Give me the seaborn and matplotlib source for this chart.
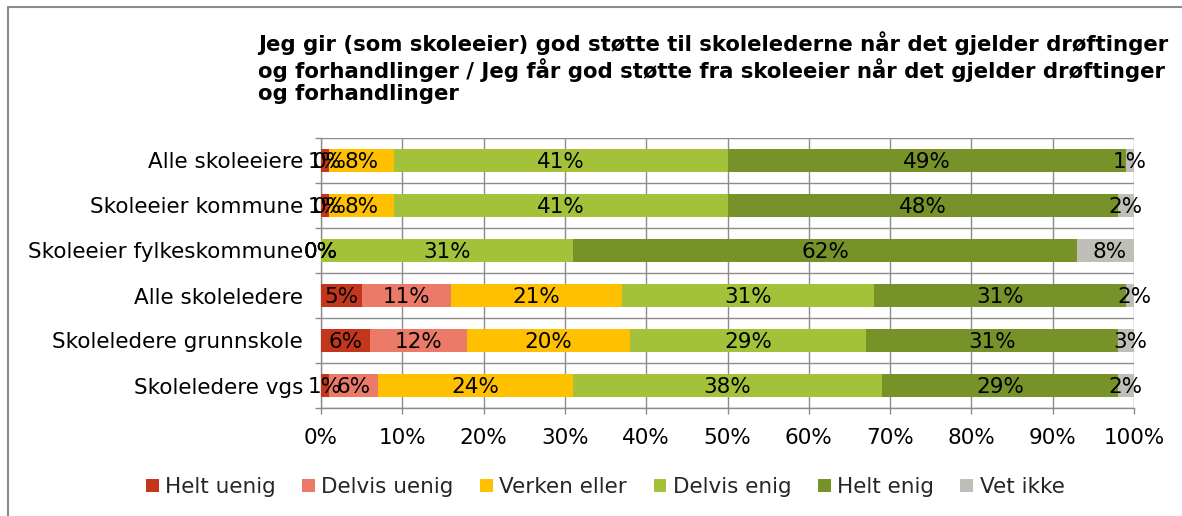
import numpy as np
import pandas as pd
import matplotlib
matplotlib.use("Agg")
import matplotlib.pyplot as plt
from matplotlib.lines import Line2D
from matplotlib.patches import Patch
from matplotlib.ticker import MultipleLocator, FixedLocator, PercentFormatter
import seaborn as sns

categories = ["Alle skoleeiere", "Skoleeier kommune", "Skoleeier fylkeskommune",
              "Alle skoleledere", "Skoleledere grunnskole", "Skoleledere vgs"]
series_names = ["Helt uenig", "Delvis uenig", "Verken eller", "Delvis enig", "Helt enig", "Vet ikke"]
helt_uenig   = [1, 1, 0, 5, 6, 1]
delvis_uenig = [0, 0, 0, 11, 12, 6]
verken_eller = [8, 8, 0, 21, 20, 24]
delvis_enig  = [41, 41, 31, 31, 29, 38]
helt_enig    = [49, 48, 62, 31, 31, 29]
vet_ikke     = [1, 2, 8, 2, 3, 2]
colors = ["#C3361C", "#EB7B68", "#FFC000", "#A3C23A", "#779229", "#BFBFB7"]

title = ("Jeg gir (som skoleeier) god støtte til skolelederne når det gjelder drøftinger\n"
         "og forhandlinger / Jeg får god støtte fra skoleeier når det gjelder drøftinger\n"
         "og forhandlinger")

values = [helt_uenig, delvis_uenig, verken_eller, delvis_enig, helt_enig, vet_ikke]
df = pd.DataFrame({name: v for name, v in zip(series_names, values)}, index=categories)
cum = df.cumsum(axis=1)

sns.set_theme(style="white")
plt.rcParams["font.family"] = ["DejaVu Sans"]

fig = plt.figure(figsize=(11.82, 5.16), dpi=100)
ax = fig.add_axes([321/1182, 1 - 408/516, (1134 - 321)/1182, (408 - 138)/516])

# stacked bars via cumulative totals drawn from the last series to the first
for name, col in zip(reversed(series_names), reversed(colors)):
    d = pd.DataFrame({"cat": categories, "val": cum[name].values})
    sns.barplot(data=d, y="cat", x="val", order=categories, color=col,
                width=0.5, ax=ax, saturation=1, linewidth=0, zorder=3)

# segment labels
for name in series_names:
    starts = cum[name].values - df[name].values
    for i, (s, v) in enumerate(zip(starts, df[name].values)):
        ax.text(s + v / 2, i + 0.03, f"{v:.0f}%", ha="center", va="center",
                fontsize=15.5, color="black", zorder=5)

ax.set_xlim(0, 100)
ax.set_ylim(len(categories) - 0.5, -0.5)
ax.xaxis.set_major_locator(MultipleLocator(10))
ax.xaxis.set_major_formatter(PercentFormatter(100, decimals=0))
ax.yaxis.set_minor_locator(FixedLocator(np.arange(-0.5, len(categories), 1.0)))
ax.set_xlabel("")
ax.set_ylabel("")

gc = "#8C8C8C"
ax.grid(True, axis="x", which="major", color=gc, linewidth=1.0, zorder=0)
ax.grid(True, axis="y", which="minor", color=gc, linewidth=1.0, zorder=0)
ax.grid(False, axis="y", which="major")
ax.set_axisbelow(True)
for side in ["top", "right"]:
    ax.spines[side].set_visible(False)
for side in ["left", "bottom"]:
    ax.spines[side].set_color(gc)
    ax.spines[side].set_linewidth(1.0)
ax.tick_params(axis="x", which="major", bottom=True, length=4.5, width=1.0, color=gc,
               labelsize=15.5, labelcolor="black", pad=10)
ax.tick_params(axis="y", which="major", left=False, length=0, labelsize=15.5,
               labelcolor="black", pad=13)
ax.tick_params(axis="y", which="minor", left=True, length=4.3, width=1.0, color=gc)

fig.text(258/1182, 1 - 31/516, title, ha="left", va="top", fontsize=15.3,
         fontweight="bold", linespacing=1.15, color="black")

handles = [Patch(facecolor=c, edgecolor="none") for c in colors]
fig.legend(handles, series_names, loc="center", bbox_to_anchor=(0.512, 1 - 487/516),
           ncol=6, frameon=False, fontsize=15.5, handlelength=0.6, handleheight=0.6,
           handletextpad=0.3, columnspacing=1.22)

fig.add_artist(Line2D([8/1182, 1], [1 - 7/516, 1 - 7/516], transform=fig.transFigure,
                      color="#8A8A8A", linewidth=1.5))
fig.add_artist(Line2D([8/1182, 8/1182], [0, 1 - 7/516], transform=fig.transFigure,
                      color="#8A8A8A", linewidth=1.5))

fig.savefig("out.png", dpi=100)
